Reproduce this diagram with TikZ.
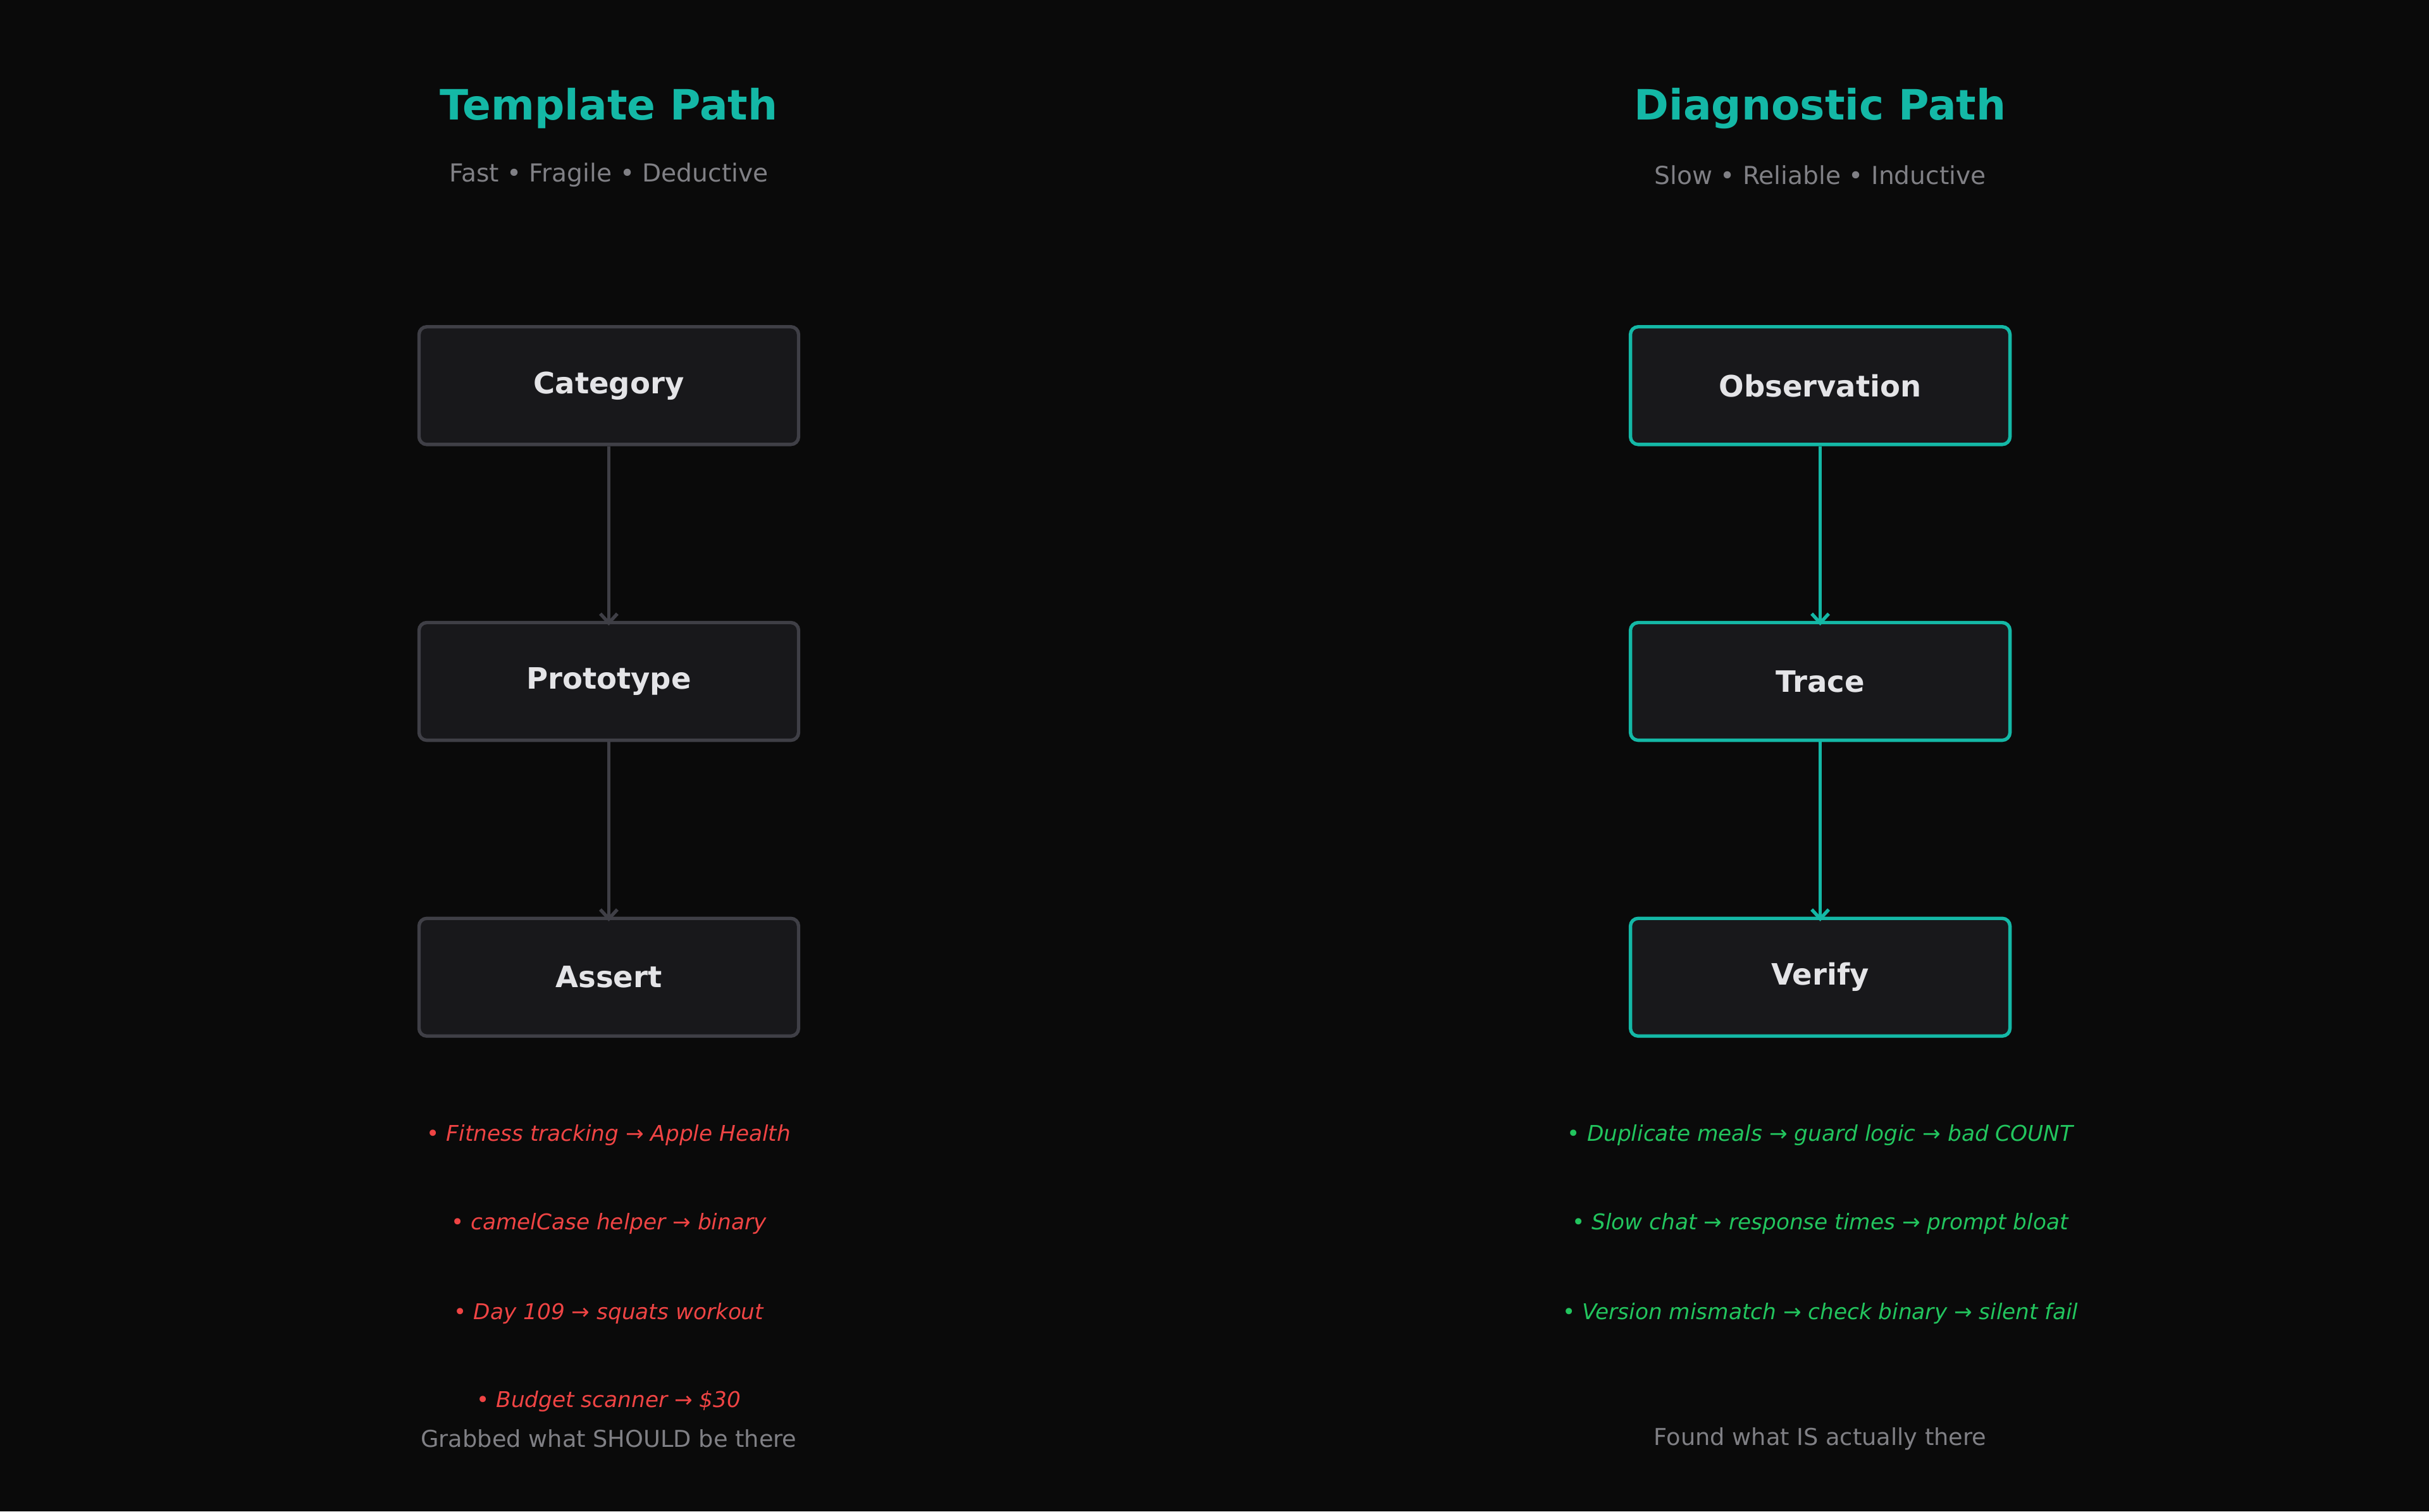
\documentclass[tikz,border=0pt]{standalone}
\usepackage{fontspec}
\setmainfont{DejaVu Sans}
\begin{document}
\begin{tikzpicture}[x=1pt,y=-1pt,
 box/.style={draw=#1,line width=2.2pt,rounded corners=5pt,fill=boxbg,minimum width=245pt,minimum height=76pt,text=txt,font=\fontsize{19}{22}\selectfont\bfseries},
 arr/.style={draw=#1,line width=2.2pt,-{Straight Barb[length=6pt,width=11pt]}},
 title/.style={text=teal2,font=\fontsize{27}{30}\selectfont\bfseries},
 sub/.style={text=gry,font=\fontsize{16}{19}\selectfont},
 bl/.style={text=#1,font=\fontsize{14}{17}\selectfont\itshape}]
\usetikzlibrary{arrows.meta}
\definecolor{bg}{HTML}{0A0A0A}\definecolor{boxbg}{HTML}{18181B}
\definecolor{lb}{HTML}{3F3F46}\definecolor{teal2}{HTML}{14B8A6}
\definecolor{txt}{HTML}{E4E4E7}\definecolor{gry}{HTML}{808085}
\definecolor{rd}{HTML}{EF4444}\definecolor{gn}{HTML}{22C55E}
\fill[bg] (0,0) rectangle (1568,976);
\useasboundingbox (0,0) rectangle (1568,976);
\node[title] (tl) at (393,70) {Template Path};
\node[sub] (sl) at (393,113) {Fast • Fragile • Deductive};
\node[title] (tr) at (1175,70) {Diagnostic Path};
\node[sub] (sr) at (1175,113) {Slow • Reliable • Inductive};
\node[box=lb] (a1) at (393,249) {Category};
\node[box=lb] (a2) at (393,440) {Prototype};
\node[box=lb] (a3) at (393,631) {Assert};
\node[box=teal2] (b1) at (1175,249) {Observation};
\node[box=teal2] (b2) at (1175,440) {Trace};
\node[box=teal2] (b3) at (1175,631) {Verify};
\draw[arr=lb] (a1.south) -- ([yshift=-3pt]a2.north);
\draw[arr=lb] (a2.south) -- ([yshift=-3pt]a3.north);
\draw[arr=teal2] (b1.south) -- ([yshift=-3pt]b2.north);
\draw[arr=teal2] (b2.south) -- ([yshift=-3pt]b3.north);
\node[bl=rd] (l1) at (393,733) {• Fitness tracking → Apple Health};
\node[bl=rd] (l2) at (393,790) {• camelCase helper → binary};
\node[bl=rd] (l3) at (393,848) {• Day 109 → squats workout};
\node[bl=rd] (l4) at (393,905) {• Budget scanner → \$30};
\node[bl=gn] (r1) at (1175,733) {• Duplicate meals → guard logic → bad COUNT};
\node[bl=gn] (r2) at (1175,790) {• Slow chat → response times → prompt bloat};
\node[bl=gn] (r3) at (1175,848) {• Version mismatch → check binary → silent fail};
\node[sub,font=\fontsize{15}{18}\selectfont] (fl) at (393,929) {Grabbed what SHOULD be there};
\node[sub,font=\fontsize{15}{18}\selectfont] (fr) at (1175,929) {Found what IS actually there};
\end{tikzpicture}
\end{document}
